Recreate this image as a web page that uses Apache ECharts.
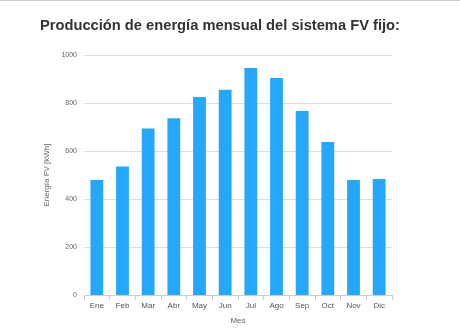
<!DOCTYPE html>
<html><head><meta charset="utf-8">
<script src="https://cdn.jsdelivr.net/npm/echarts@6/dist/echarts.min.js"></script>
<style>html,body{margin:0;padding:0;background:#fff}#c{width:460px;height:336px}</style>
</head><body><div id="c"></div>
<script>
const categories = ['Ene','Feb','Mar','Abr','May','Jun','Jul','Ago','Sep','Oct','Nov','Dic'];
const energy = [479, 535, 694, 736, 825, 855, 946, 904, 767, 637, 479, 483];
const yTicks = [0, 200, 400, 600, 800, 1000];

const chart = echarts.init(document.getElementById('c'), null, {renderer:'canvas'});
chart.setOption({
  animation: false,
  backgroundColor: '#fff',
  title: {
    text: 'Producción de energía mensual del sistema FV fijo:',
    left: 35, top: 13,
    textStyle: {fontFamily: 'Liberation Sans, Arial, sans-serif', fontWeight: 'bold', fontSize: 14.7, color: '#333'}
  },
  graphic: [{type:'line', shape:{x1:0,y1:0.5,x2:460,y2:0.5}, style:{stroke:'#ccc', lineWidth:1}}],
  grid: {left: 84, right: 68, top: 55, bottom: 41, containLabel: false},
  xAxis: {
    type: 'category', data: categories,
    name: 'Mes', nameLocation: 'middle', nameGap: 22,
    nameTextStyle: {fontSize: 8, color: '#666', fontFamily: 'Liberation Sans, Arial, sans-serif'},
    axisLine: {lineStyle: {color: '#ccc'}},
    axisTick: {show: true, length: 5, lineStyle: {color: '#ccc'}},
    axisLabel: {fontSize: 8, color: '#555', margin: 7, fontFamily: 'Liberation Sans, Arial, sans-serif'}
  },
  yAxis: {
    type: 'value', min: yTicks[0], max: yTicks[yTicks.length-1], interval: 200,
    name: 'Energía FV [kWh]', nameLocation: 'middle', nameGap: 27,
    nameTextStyle: {fontSize: 8, color: '#666', fontFamily: 'Liberation Sans, Arial, sans-serif'},
    axisLine: {show: false}, axisTick: {show: false},
    axisLabel: {fontSize: 7, color: '#666', margin: 7, formatter: v => String(v), fontFamily: 'Liberation Sans, Arial, sans-serif'},
    splitLine: {lineStyle: {color: '#ddd'}}
  },
  series: [{
    type: 'bar', data: energy, barWidth: '50%',
    itemStyle: {color: '#25a8fb'}
  }]
});
</script></body></html>
